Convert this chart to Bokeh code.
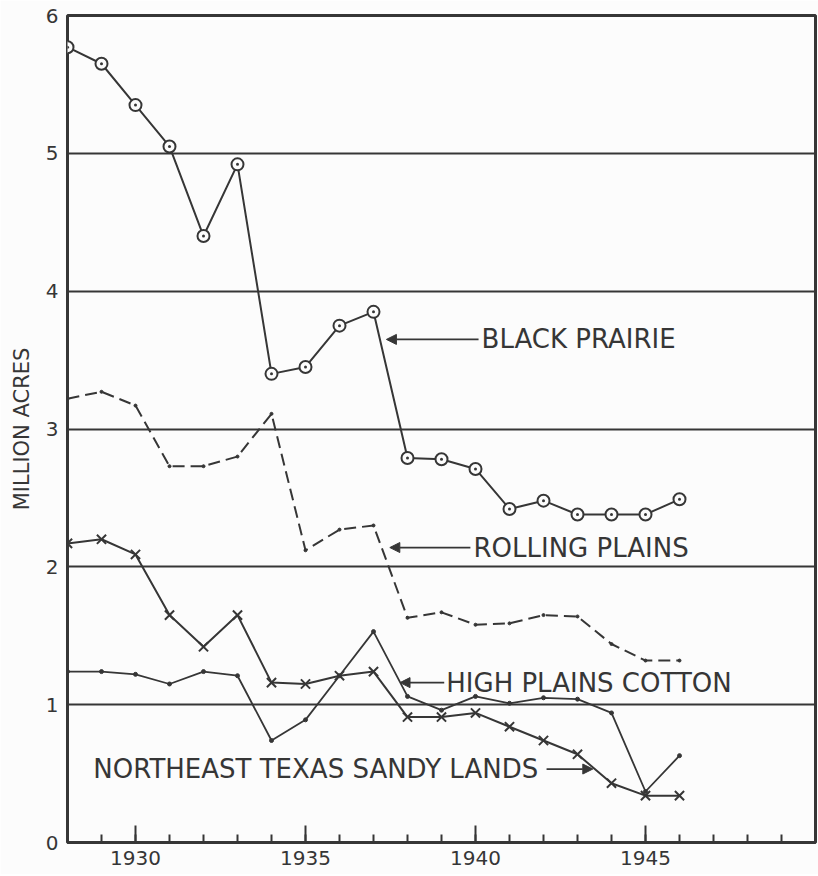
from bokeh.plotting import figure
from bokeh.models import Range1d, FixedTicker, Label, Arrow, NormalHead
from bokeh.embed import file_html
from bokeh.resources import INLINE

# ---- data (million acres) ----
years = list(range(1928, 1947))
black_prairie = [5.77, 5.65, 5.35, 5.05, 4.40, 4.92, 3.40, 3.45, 3.75, 3.85,
                 2.79, 2.78, 2.71, 2.42, 2.48, 2.38, 2.38, 2.38, 2.49]
rolling_plains = [3.22, 3.27, 3.17, 2.73, 2.73, 2.80, 3.11, 2.12, 2.27, 2.30,
                  1.63, 1.67, 1.58, 1.59, 1.65, 1.64, 1.44, 1.32, 1.32]
high_plains_cotton = [1.24, 1.24, 1.22, 1.15, 1.24, 1.21, 0.74, 0.89, 1.21, 1.53,
                      1.06, 0.96, 1.06, 1.01, 1.05, 1.04, 0.94, 0.37, 0.63]
ne_texas_sandy = [2.17, 2.20, 2.09, 1.65, 1.42, 1.65, 1.16, 1.15, 1.21, 1.24,
                  0.91, 0.91, 0.94, 0.84, 0.74, 0.64, 0.43, 0.34, 0.34]

x_labels = [1930, 1935, 1940, 1945]
x_minor = list(range(1929, 1950))
y_ticks = [0, 1, 2, 3, 4, 5, 6]

label_texts = ["BLACK PRAIRIE", "ROLLING PLAINS", "HIGH PLAINS COTTON",
               "NORTHEAST TEXAS SANDY LANDS"]
label_x = [1940.18, 1939.94, 1939.14, 1928.76]
label_y = [3.65, 2.14, 1.16, 0.533]
arrow_tail_x = [1940.09, 1939.85, 1939.08, 1942.09]
arrow_tip_x = [1937.38, 1937.48, 1937.78, 1943.45]

INK = "#363636"
BG = "#fcfcfc"
FONT = "DejaVu Sans"

p = figure(width=818, height=874, output_backend="svg", toolbar_location=None,
           x_range=Range1d(1928, 1950), y_range=Range1d(0, 6),
           min_border_left=67, min_border_right=3, min_border_top=15,
           min_border_bottom=32)
p.background_fill_color = BG
p.border_fill_color = BG
p.outline_line_color = INK
p.outline_line_width = 3

# x axis
xa = p.xaxis[0]
xa.ticker = FixedTicker(ticks=x_labels, minor_ticks=x_minor)
xa.axis_line_color = INK
xa.axis_line_width = 3
xa.major_tick_in = 17
xa.major_tick_out = 0
xa.minor_tick_in = 8
xa.minor_tick_out = 0
xa.major_tick_line_color = INK
xa.major_tick_line_width = 2
xa.minor_tick_line_color = INK
xa.minor_tick_line_width = 2
xa.major_label_text_font = FONT
xa.major_label_text_font_size = "20px"
xa.major_label_text_color = INK
xa.major_label_standoff = 8

# y axis
ya = p.yaxis[0]
ya.ticker = FixedTicker(ticks=y_ticks, minor_ticks=[])
ya.axis_line_color = None
ya.major_tick_in = 0
ya.major_tick_out = 0
ya.minor_tick_line_color = None
ya.major_label_text_font = FONT
ya.major_label_text_font_size = "20px"
ya.major_label_text_color = INK
ya.major_label_standoff = 9
ya.axis_label = "MILLION ACRES"
ya.axis_label_text_font = FONT
ya.axis_label_text_font_size = "21px"
ya.axis_label_text_font_style = "normal"
ya.axis_label_text_color = INK
ya.axis_label_standoff = 9

p.xgrid.grid_line_color = None
p.ygrid.ticker = FixedTicker(ticks=[1, 2, 3, 4, 5])
p.ygrid.grid_line_color = INK
p.ygrid.grid_line_width = 2
p.ygrid.grid_line_alpha = 1.0

# series
p.line(years, black_prairie, line_color=INK, line_width=2)
p.scatter(years, black_prairie, marker="circle_dot", size=12, line_color=INK,
          line_width=2, fill_color=BG)

p.line(years, rolling_plains, line_color=INK, line_width=2, line_dash="12 6")
p.scatter(years, rolling_plains, marker="circle", size=3, line_color=INK,
          fill_color=INK)

p.line(years, high_plains_cotton, line_color=INK, line_width=1.8)
p.scatter(years, high_plains_cotton, marker="circle", size=4, line_color=INK,
          fill_color=INK)

p.line(years, ne_texas_sandy, line_color=INK, line_width=2)
p.scatter(years, ne_texas_sandy, marker="x", size=13, line_color=INK,
          line_width=2)

# labels and arrows
for t, lx, ly, tx0, tx1 in zip(label_texts, label_x, label_y, arrow_tail_x, arrow_tip_x):
    p.add_layout(Label(x=lx, y=ly, text=t, text_font=FONT, text_font_size="26px",
                       text_color=INK, text_baseline="middle", text_align="left"))
    p.add_layout(Arrow(x_start=tx0, y_start=ly, x_end=tx1, y_end=ly,
                       line_color=INK, line_width=1.8,
                       end=NormalHead(size=10, fill_color=INK, line_color=INK)))

open("out.html", "w").write(file_html(p, INLINE))
